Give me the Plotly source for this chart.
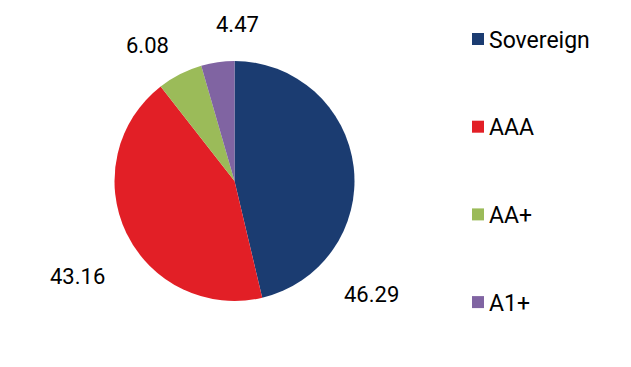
import plotly.graph_objects as go

labels = ["Sovereign", "AAA", "AA+", "A1+"]
values = [46.29, 43.16, 6.08, 4.47]
colors = ["#1B3C71", "#E21F26", "#9BBB59", "#8064A2"]

W, H = 631, 367
OFF = 8  # default page body margin
FW, FH = W - 2 * OFF, H - 2 * OFF
FONT = "Roboto, Arial, sans-serif"

def px(x):
    return (x - OFF) / FW

def py(y):
    return 1 - (y - OFF) / FH

# pie geometry (window pixels)
cx, cy, r = 234.5, 181, 120

fig = go.Figure(go.Pie(
    labels=labels,
    values=values,
    marker=dict(colors=colors, line=dict(width=0)),
    sort=False,
    direction="clockwise",
    rotation=0,
    textinfo="none",
    hoverinfo="label+value",
    showlegend=False,
    domain=dict(x=[px(cx - r), px(cx + r)], y=[py(cy + r), py(cy - r)]),
))

# data label placement (window pixel centers), one per slice
label_pos = [(371, 294), (77.5, 276), (147.5, 46), (237, 24.5)]
annotations = []
for v, (lx, ly) in zip(values, label_pos):
    annotations.append(dict(
        x=px(lx), y=py(ly), xref="paper", yref="paper",
        text=f"{v:.2f}", showarrow=False, xanchor="center", yanchor="middle",
        font=dict(family=FONT, size=22, color="#000000"),
    ))

# custom legend
shapes = []
leg_x, leg_y0, leg_step, sq = 472, 39, 87.7, 12
for i, (lab, col) in enumerate(zip(labels, colors)):
    yc = leg_y0 + i * leg_step
    shapes.append(dict(
        type="rect", xref="paper", yref="paper",
        x0=px(leg_x), x1=px(leg_x + sq), y0=py(yc + sq / 2), y1=py(yc - sq / 2),
        fillcolor=col, line=dict(width=0),
    ))
    annotations.append(dict(
        x=px(leg_x + sq + 3), y=py(yc + 1), xref="paper", yref="paper",
        text=lab, showarrow=False, xanchor="left", yanchor="middle",
        font=dict(family=FONT, size=23, color="#000000"),
    ))

fig.update_layout(
    width=FW, height=FH,
    margin=dict(l=0, r=0, t=0, b=0),
    paper_bgcolor="white", plot_bgcolor="white",
    annotations=annotations, shapes=shapes,
)

fig.write_html("out.html")
